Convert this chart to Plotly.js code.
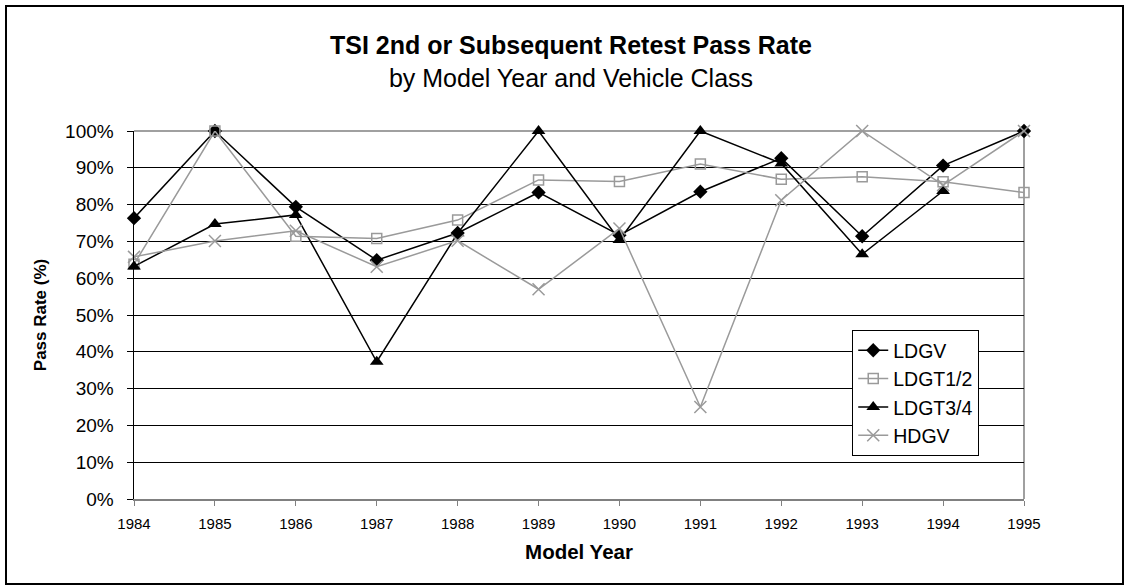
<!DOCTYPE html>
<html>
<head>
<meta charset="utf-8">
<script src="https://cdn.plot.ly/plotly-3.0.1.min.js"></script>
<style>
  html, body { margin: 0; padding: 0; background: #fff; }
  #wrap { position: relative; width: 1124px; height: 585px; overflow: hidden; }
  #chart { width: 1124px; height: 585px; }
  #frame { position: absolute; left: 5px; top: 5px; right: 0; bottom: 0; border: 2px solid #000; pointer-events: none; box-sizing: border-box; }
</style>
</head>
<body>
<div id="wrap">
  <div id="chart"></div>
  <div id="frame"></div>
</div>
<script>
const years = [1984, 1985, 1986, 1987, 1988, 1989, 1990, 1991, 1992, 1993, 1994, 1995];
const yearLabels = ['1984','1985','1986','1987','1988','1989','1990','1991','1992','1993','1994','1995'];
const ldgv   = [76.3, 100, 79.4, 64.9, 72.3, 83.3, 71.7, 83.5, 92.6, 71.4, 90.6, 100];
const ldgt12 = [63.8, 100, 71.4, 70.8, 75.8, 86.7, 86.3, 91.0, 86.9, 87.6, 86.2, 83.3];
const ldgt34 = [63.2, 74.7, 77.2, 37.3, 72.2, 100, 70.4, 100, 91.2, 66.5, 83.7, null];
const hdgv   = [65.8, 70.1, 72.9, 63.1, 70.2, 57.0, 73.5, 25.0, 81.2, 100, 85.3, 100];
const seriesNames = ['LDGV', 'LDGT1/2', 'LDGT3/4', 'HDGV'];

const FONT = 'Liberation Sans, Arial, sans-serif';
const GRAY = '#9a9a9a';

const traces = [
  { x: years, y: ldgv, name: seriesNames[0], mode: 'lines+markers', cliponaxis: false,
    line: { color: '#000', width: 1.5 },
    marker: { symbol: 'diamond', size: 11, color: '#000' } },
  { x: years, y: ldgt12, name: seriesNames[1], mode: 'lines+markers', cliponaxis: false,
    line: { color: GRAY, width: 1.5 },
    marker: { symbol: 'square-open', size: 10, color: GRAY, line: { width: 1.5, color: GRAY } } },
  { x: years, y: ldgt34, name: seriesNames[2], mode: 'lines+markers', cliponaxis: false,
    line: { color: '#000', width: 1.5 },
    marker: { symbol: 'triangle-up', size: 12, color: '#000' } },
  { x: years, y: hdgv, name: seriesNames[3], mode: 'lines+markers', cliponaxis: false,
    line: { color: GRAY, width: 1.5 },
    marker: { symbol: 'x-thin-open', size: 12, color: GRAY, line: { width: 1.5, color: GRAY } } }
];

const layout = {
  width: 1124, height: 585,
  paper_bgcolor: '#fff', plot_bgcolor: '#fff',
  margin: { l: 134, r: 100, t: 131, b: 86 },
  font: { family: FONT, color: '#000' },
  title: {
    text: '<b>TSI 2nd or Subsequent Retest Pass Rate</b><br>by Model Year and Vehicle Class',
    font: { family: FONT, size: 25, color: '#000' },
    x: 0.508, xref: 'container', xanchor: 'center',
    y: 0.907, yref: 'container', yanchor: 'middle'
  },
  xaxis: {
    range: [1984, 1995],
    tickmode: 'array', tickvals: years, ticktext: yearLabels,
    ticks: 'outside', ticklen: 5, tickcolor: '#808080', tickwidth: 1,
    ticklabelstandoff: 5,
    showgrid: false, zeroline: false,
    showline: true, linecolor: '#808080', linewidth: 1.5,
    tickfont: { family: FONT, size: 15, color: '#000' },
    title: { text: '<b>Model Year</b>', font: { family: FONT, size: 20.5, color: '#000' }, standoff: 14 }
  },
  yaxis: {
    range: [0, 100], dtick: 10, ticksuffix: '%',
    ticks: 'outside', ticklen: 6, tickcolor: '#000', tickwidth: 1,
    ticklabelstandoff: 9,
    showgrid: true, gridcolor: '#000', gridwidth: 1,
    zeroline: false,
    showline: true, linecolor: '#000', linewidth: 1.5,
    tickfont: { family: FONT, size: 19, color: '#000' },
    title: { text: '<b>Pass Rate (%)</b>', font: { family: FONT, size: 17, color: '#000' }, standoff: 14 }
  },
  shapes: [
    { type: 'line', xref: 'paper', yref: 'paper', x0: 0, x1: 1, y0: 1, y1: 1, layer: 'between',
      line: { color: '#808080', width: 1.5 } },
    { type: 'line', xref: 'paper', yref: 'paper', x0: 1, x1: 1, y0: 0, y1: 1, layer: 'between',
      line: { color: '#808080', width: 1.5 } }
  ],
  showlegend: true,
  legend: {
    x: 0.807, y: 0.459, xanchor: 'left', yanchor: 'top',
    bgcolor: '#fff', bordercolor: '#000', borderwidth: 1,
    font: { family: FONT, size: 19.5, color: '#000' },
    itemwidth: 30
  }
};

Plotly.newPlot('chart', traces, layout, { displayModeBar: false, staticPlot: true });
</script>
</body>
</html>
